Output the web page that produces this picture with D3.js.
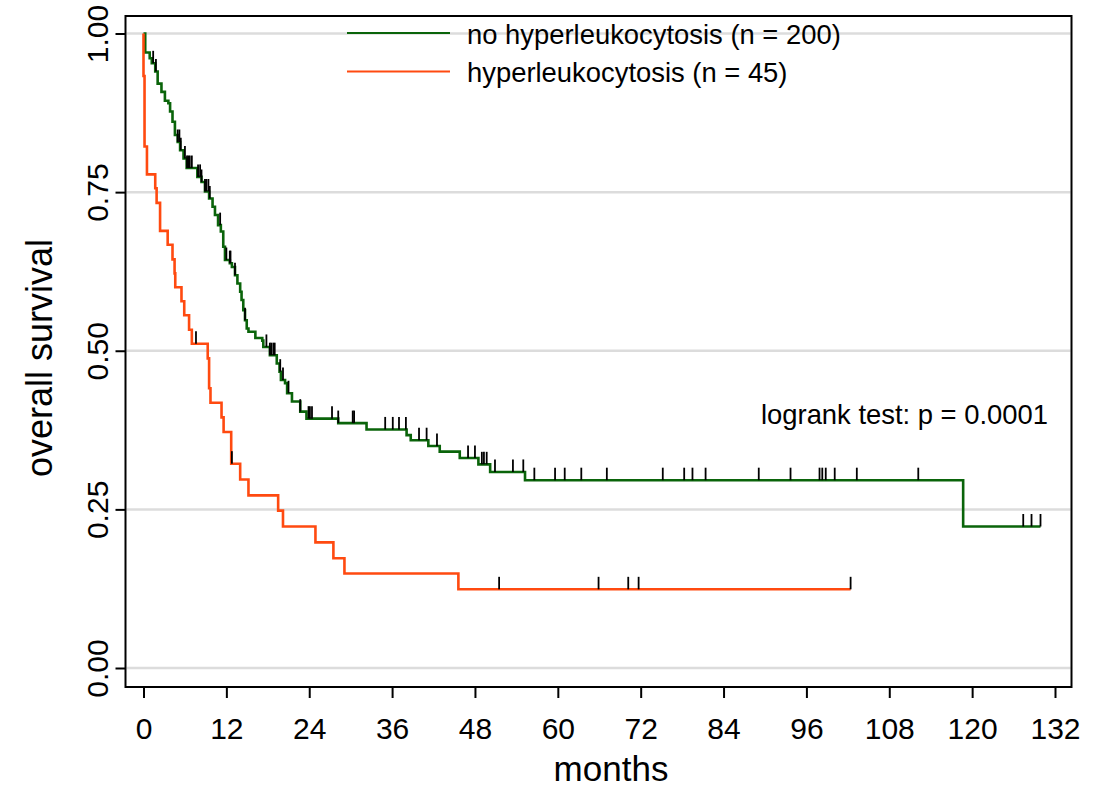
<!DOCTYPE html>
<html>
<head>
<meta charset="utf-8">
<script src="https://d3js.org/d3.v7.min.js"></script>
<style>
    body { margin: 0; background: #fff; }
    text { font-family: "Liberation Sans", Arial, sans-serif; fill: #000; }
</style>
</head>
<body>
<svg id="drawing_region"></svg>
<script>
const month_ticks = [0, 12, 24, 36, 48, 60, 72, 84, 96, 108, 120, 132];
const survival_ticks = [0, 0.25, 0.5, 0.75, 1];
const group_names = ['no hyperleukocytosis (n = 200)', 'hyperleukocytosis (n = 45)'];
const group_colors = ['#0a640a', '#ff4a10'];

// no hyperleukocytosis: month of each drop and the survival after it
const noleuk_times = [0.25, 0.9, 1.2, 1.7, 2.05, 2.6, 3.1, 3.6, 3.85, 4.2, 4.55, 4.95, 5.3, 5.8, 6.25,
    7.8, 8.4, 8.9, 9.5, 10.0, 10.35, 10.8, 11.2, 11.55, 11.8, 12.5, 12.8, 13.25, 13.6, 14.0, 14.2,
    14.45, 14.7, 14.95, 15.2, 16.2, 17.2, 17.35, 18.3, 19.3, 19.7, 19.9, 20.5, 20.8, 21.5, 22.7,
    23.6, 28.2, 32.3, 38.1, 38.7, 41.25, 42.9, 45.8, 48.5, 50.2, 55.25, 118.7];
const noleuk_surv = [0.970, 0.961, 0.953, 0.940, 0.921, 0.908, 0.894, 0.890, 0.877, 0.861, 0.840, 0.829,
    0.816, 0.803, 0.788, 0.774, 0.766, 0.751, 0.740, 0.727, 0.714, 0.698, 0.688, 0.664, 0.643, 0.638,
    0.632, 0.619, 0.606, 0.593, 0.580, 0.564, 0.548, 0.535, 0.530, 0.520, 0.516, 0.506, 0.493, 0.480,
    0.467, 0.454, 0.449, 0.433, 0.420, 0.404, 0.393, 0.386, 0.376, 0.367, 0.359, 0.350, 0.341, 0.331,
    0.321, 0.309, 0.296, 0.223];
const noleuk_last = 129.9;
const noleuk_censored = [1.4, 1.8, 4.95, 5.2, 5.4, 6.0, 6.3, 6.5, 6.7, 7.0, 7.9, 8.2, 8.4, 8.9, 9.1, 9.4,
    9.6, 11.1, 12.0, 12.5, 12.6, 13.25, 14.7, 17.8, 18.3, 18.5, 18.8, 19.0, 19.8, 20.2, 21.0, 22.7, 23.9,
    24.1, 24.4, 27.3, 28.2, 30.3, 30.5, 35.0, 36.1, 37.0, 38.0, 39.9, 41.0, 42.5, 47.0, 48.0, 49.0, 49.3,
    49.7, 50.9, 53.5, 55.0, 56.6, 59.6, 61.0, 63.4, 67.1, 75.2, 78.3, 79.5, 81.4, 89.1, 93.7, 97.9, 98.3,
    98.8, 100.1, 103.3, 112.2, 127.4, 128.6, 129.9];

// hyperleukocytosis
const leuk_times = [0.0, 0.15, 0.5, 1.7, 1.9, 2.4, 3.5, 4.2, 4.5, 4.6, 5.5, 5.9, 6.6, 7.0, 9.3, 9.5, 9.7,
    11.3, 11.6, 12.7, 14.0, 15.2, 19.5, 20.2, 24.9, 27.5, 29.1, 45.6];
const leuk_surv = [0.933, 0.822, 0.778, 0.756, 0.733, 0.689, 0.667, 0.644, 0.622, 0.600, 0.578, 0.556,
    0.533, 0.511, 0.488, 0.441, 0.418, 0.395, 0.372, 0.322, 0.297, 0.272, 0.248, 0.223, 0.198, 0.173,
    0.149, 0.124];
const leuk_last = 102.4;
const leuk_censored = [7.6, 12.8, 51.5, 65.9, 70.2, 71.7, 102.4];

class SurvivalPlot {

    constructor( config, groups ) {
        this.config = config;
        this.groups = groups;
        this.init();
    }

    init() {
        let self = this;

        self.svg = d3.select( self.config.parent )
            .attr('width', self.config.width)
            .attr('height', self.config.height);

        self.frame = {left: 125.5, right: 1071.5, top: 16, bottom: 687};

        self.xscale = d3.scaleLinear()
            .domain( [0, 132] )
            .range( [143.5, 1055] );

        self.yscale = d3.scaleLinear()
            .domain( [0, 1] )
            .range( [668, 33.5] );

        self.xaxis = d3.axisBottom( self.xscale )
            .tickValues( month_ticks )
            .tickSize( 11 )
            .tickPadding( 20 )
            .tickSizeOuter( 0 );

        self.yaxis = d3.axisLeft( self.yscale )
            .tickValues( survival_ticks )
            .tickSize( 10 )
            .tickFormat( d3.format('.2f') );

        self.line = d3.line()
            .x( d => self.xscale(d[0]) )
            .y( d => self.yscale(d[1]) )
            .curve( d3.curveStepAfter );
    }

    render() {
        let self = this;
        const f = self.frame;

        // grid
        self.svg.append('g')
            .selectAll('line')
            .data( survival_ticks )
            .join('line')
            .attr('x1', f.left + 1)
            .attr('x2', f.right - 1)
            .attr('y1', d => self.yscale(d))
            .attr('y2', d => self.yscale(d))
            .attr('stroke', '#dcdcdc')
            .attr('stroke-width', 2.5);

        // axes
        const xg = self.svg.append('g')
            .attr('transform', `translate(0, ${f.bottom})`)
            .call( self.xaxis );
        xg.select('.domain').remove();
        xg.selectAll('line').attr('stroke-width', 2);
        xg.selectAll('text')
            .attr('font-size', 30)
            .attr('font-family', '"Liberation Sans", Arial, sans-serif');

        const yg = self.svg.append('g')
            .attr('transform', `translate(${f.left}, 0)`)
            .call( self.yaxis );
        yg.select('.domain').remove();
        yg.selectAll('line').attr('stroke-width', 2);
        yg.selectAll('text')
            .attr('x', 0)
            .attr('y', 0)
            .attr('dy', null)
            .attr('text-anchor', 'middle')
            .attr('transform', 'translate(-18,0) rotate(-90)')
            .attr('font-size', 30)
            .attr('font-family', '"Liberation Sans", Arial, sans-serif');

        // curves
        self.groups.forEach( (g, i) => {
            const pts = [[0, 1]];
            g.times.forEach( (t, j) => pts.push([t, g.surv[j]]) );
            pts.push([g.last, g.surv[g.surv.length - 1]]);

            self.svg.append('path')
                .attr('d', self.line(pts))
                .attr('stroke', group_colors[i])
                .attr('stroke-width', 2.6)
                .attr('fill', 'none');

            const level = t => {
                const k = d3.bisectRight(g.times, t);
                return k == 0 ? 1 : g.surv[k - 1];
            };

            self.svg.append('g')
                .selectAll('line')
                .data( g.censored )
                .join('line')
                .attr('x1', d => self.xscale(d))
                .attr('x2', d => self.xscale(d))
                .attr('y1', d => self.yscale(level(d)))
                .attr('y2', d => self.yscale(level(d)) - 12.5)
                .attr('stroke', '#000')
                .attr('stroke-width', 1.8);
        });

        // frame
        self.svg.append('rect')
            .attr('x', f.left)
            .attr('y', f.top)
            .attr('width', f.right - f.left)
            .attr('height', f.bottom - f.top)
            .attr('fill', 'none')
            .attr('stroke', '#000')
            .attr('stroke-width', 2);

        // legend
        group_names.forEach( (name, i) => {
            const ly = 33 + i * 38.5;
            self.svg.append('line')
                .attr('x1', 347).attr('x2', 450)
                .attr('y1', ly).attr('y2', ly)
                .attr('stroke', group_colors[i])
                .attr('stroke-width', 2);
            self.svg.append('text')
                .attr('x', 467)
                .attr('y', ly + 10.5)
                .attr('font-size', 27.4)
                .text( name );
        });

        self.svg.append('text')
            .attr('x', 1048)
            .attr('y', 424)
            .attr('font-size', 27.4)
            .attr('text-anchor', 'end')
            .text('logrank test: p = 0.0001');

        self.svg.append('text')
            .attr('x', 611)
            .attr('y', 781)
            .attr('font-size', 35)
            .attr('text-anchor', 'middle')
            .text('months');

        self.svg.append('text')
            .attr('transform', 'translate(52, 358) rotate(-90)')
            .attr('font-size', 36)
            .attr('text-anchor', 'middle')
            .text('overall survival');
    }
}

const plot = new SurvivalPlot(
    { parent: '#drawing_region', width: 1108, height: 788 },
    [
        { times: noleuk_times, surv: noleuk_surv, last: noleuk_last, censored: noleuk_censored },
        { times: leuk_times, surv: leuk_surv, last: leuk_last, censored: leuk_censored }
    ]
);
plot.render();
</script>
</body>
</html>
